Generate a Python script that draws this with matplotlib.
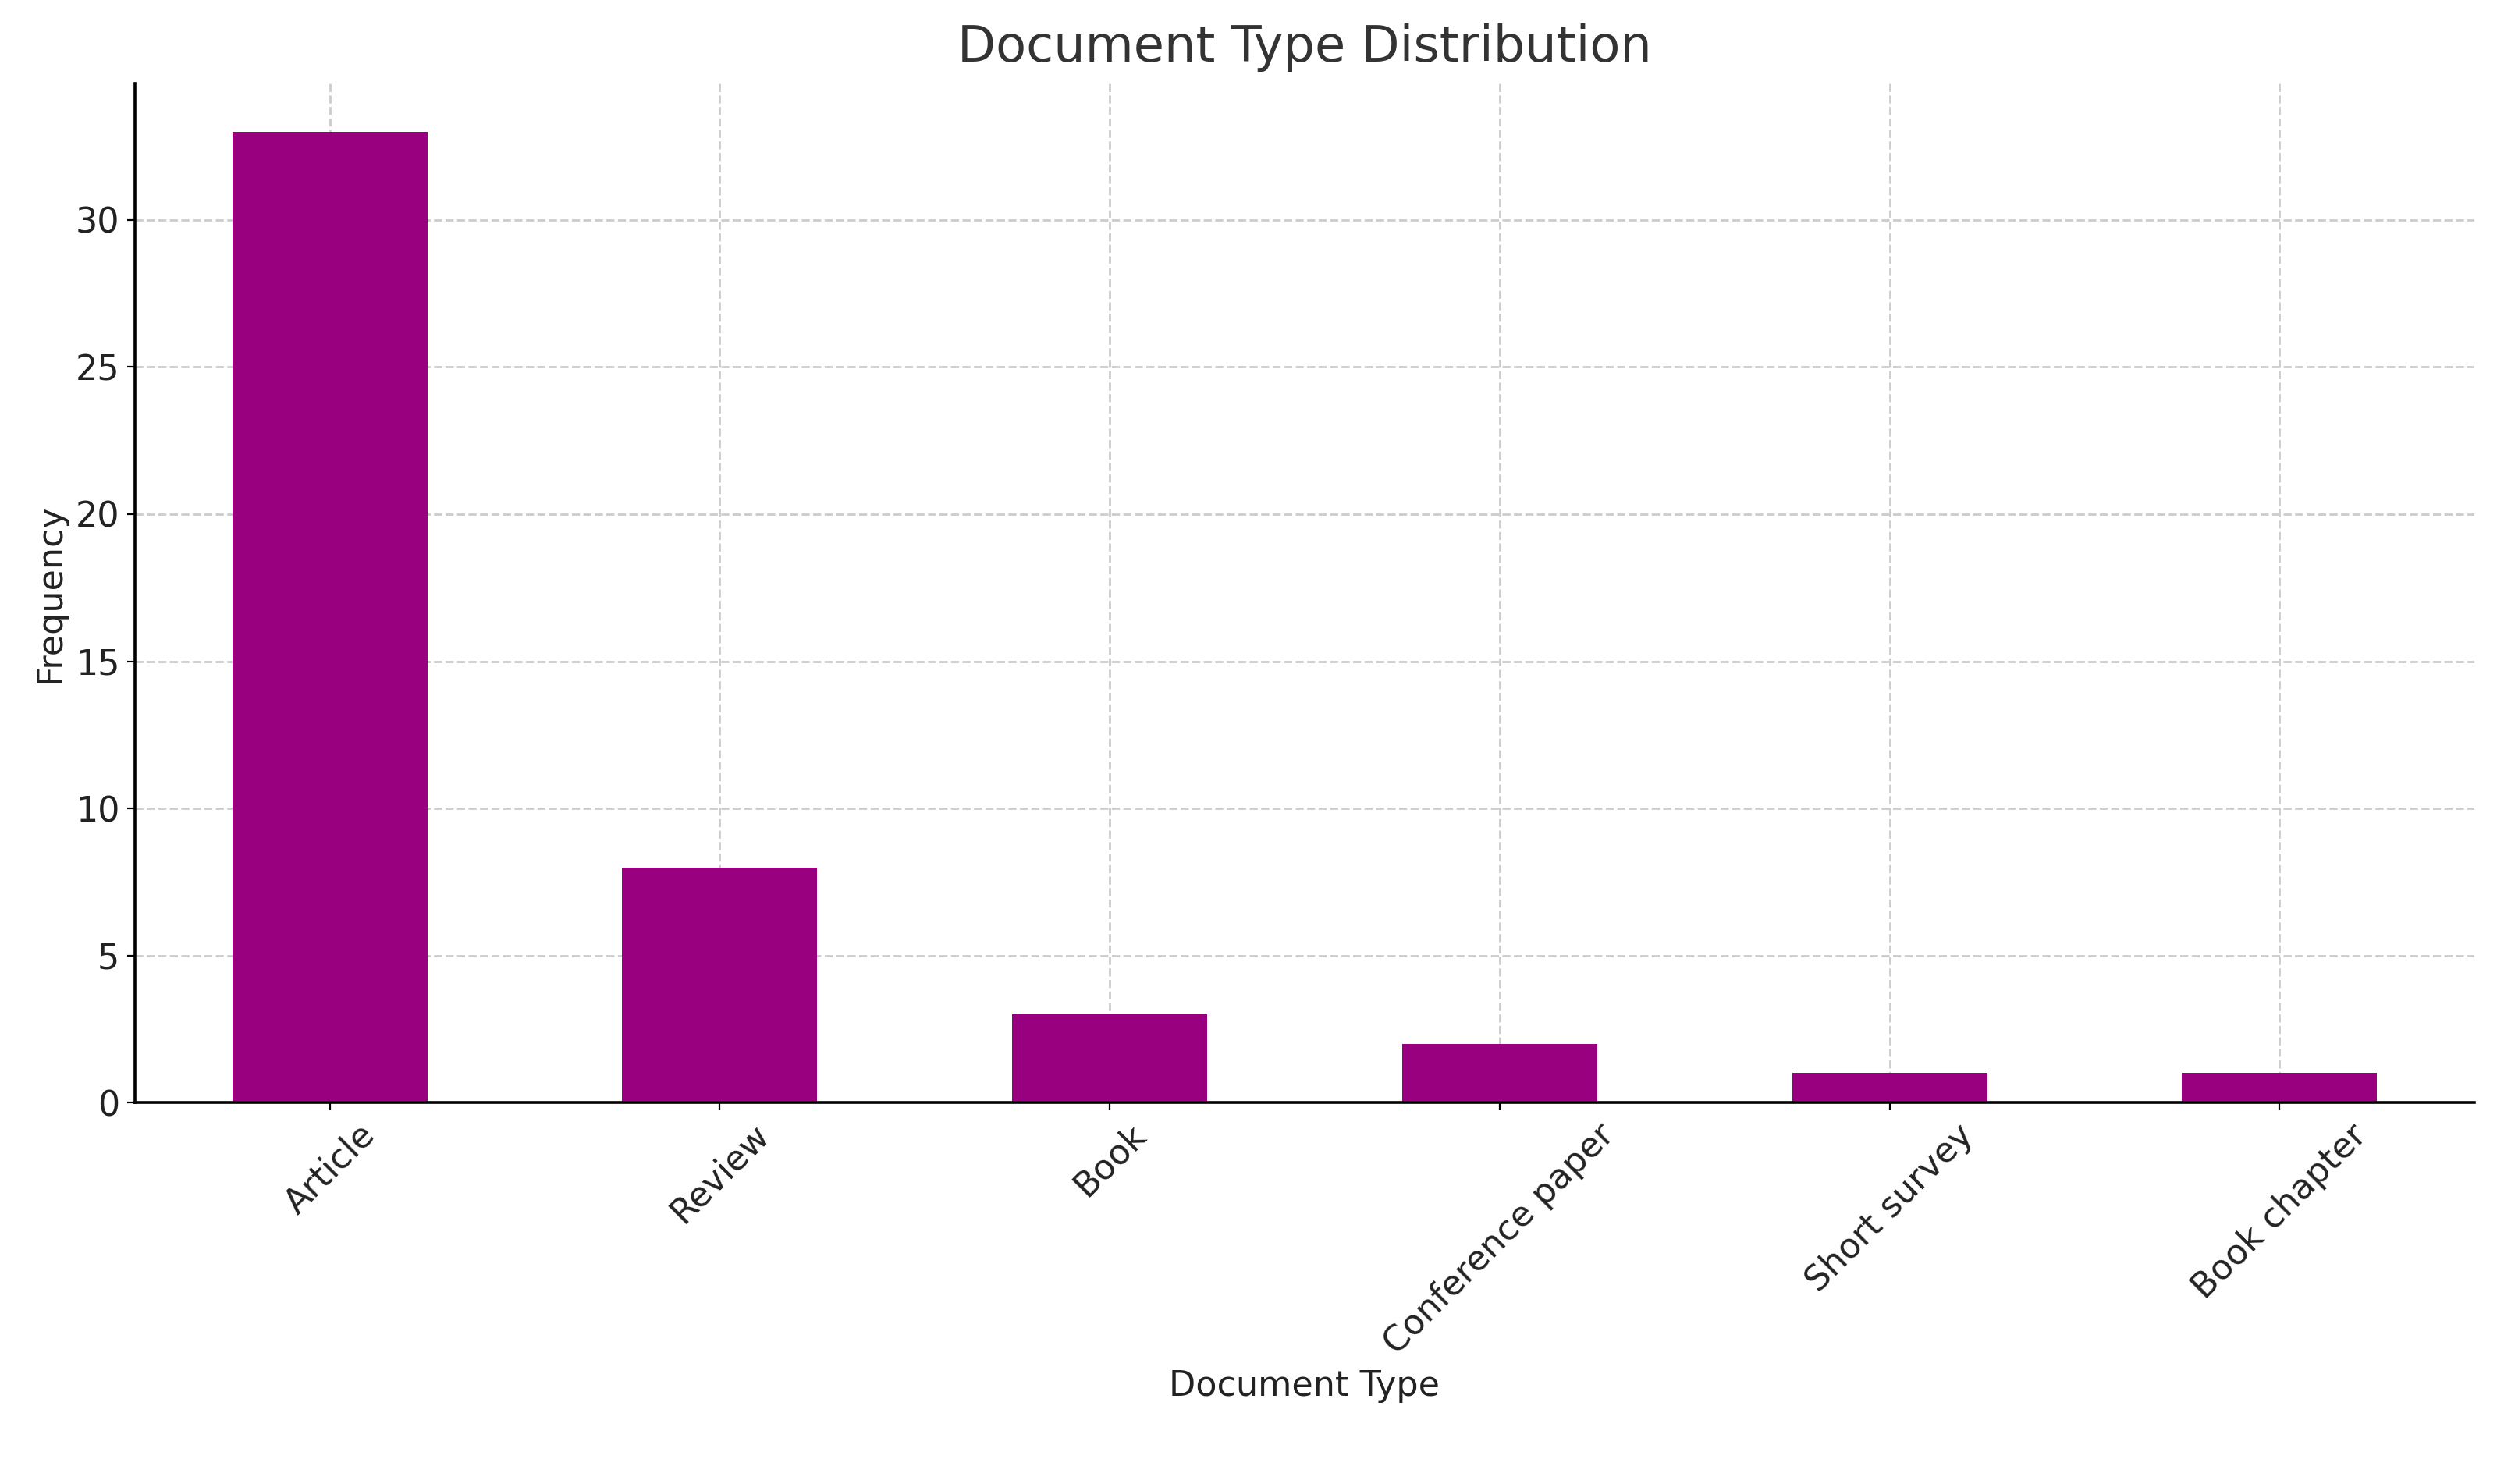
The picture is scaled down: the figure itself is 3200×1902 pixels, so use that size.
import matplotlib
matplotlib.use("Agg")
import matplotlib.pyplot as plt

doc_types = ["Article", "Review", "Book", "Conference paper", "Short survey", "Book chapter"]
frequency = [33, 8, 3, 2, 1, 1]

fig = plt.figure(figsize=(16, 9.51), dpi=200)
ax = fig.add_axes([0.054, 0.257, 0.937, 0.687])

x = range(len(doc_types))
ax.bar(x, frequency, width=0.5, color="#990080", zorder=2)
ax.set_xlim(-0.5, len(doc_types) - 0.5)
ax.set_ylim(0, 34.65)
ax.set_xticks(list(x))
ax.set_xticklabels(doc_types, rotation=45, ha="center", fontsize=16, color="#222222")
ax.tick_params(axis="y", labelsize=16, labelcolor="#222222")
ax.grid(True, linestyle="--", color="#cccccc", linewidth=1, zorder=0)
ax.set_axisbelow(True)
for s in ["top", "right"]:
    ax.spines[s].set_visible(False)
ax.spines["left"].set_linewidth(1.3)
ax.spines["bottom"].set_linewidth(1.3)

ax.set_title("Document Type Distribution", fontsize=23, color="#333333", pad=10)
ax.set_xlabel("Document Type", fontsize=16, color="#222222")
ax.set_ylabel("Frequency", fontsize=16, color="#222222")

fig.savefig("out.png", dpi=200)
